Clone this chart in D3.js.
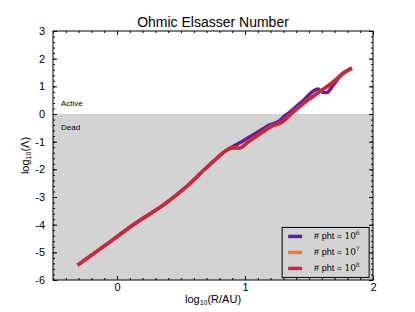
<!DOCTYPE html>
<html>
<head>
<meta charset="utf-8">
<script src="https://cdn.jsdelivr.net/npm/d3@7"></script>
<style>
  body { margin: 0; background: #fff; }
  text { font-family: "Liberation Sans", Arial, sans-serif; }
</style>
</head>
<body>
<div id="chart"></div>
<script>
// values
const logR_common = [-0.308, -0.12, 0.147, 0.382, 0.539, 0.696, 0.782, 0.837];
const logL_common = [-5.46, -4.84, -3.94, -3.22, -2.64, -1.95, -1.59, -1.37];

const logR_1e6 = [0.955, 1.088, 1.19, 1.27, 1.31, 1.35, 1.45, 1.57, 1.61, 1.64, 1.69, 1.76, 1.835];
const logL_1e6 = [-1.05, -0.69, -0.40, -0.25, -0.07, 0.07, 0.47, 0.90, 0.78, 0.78, 1.05, 1.45, 1.66];

const logR_1e7 = [0.90, 0.955, 1.033, 1.127, 1.213, 1.26, 1.29, 1.35, 1.45, 1.58, 1.69, 1.76, 1.835];
const logL_1e7 = [-1.23, -1.23, -0.98, -0.69, -0.43, -0.36, -0.29, -0.04, 0.36, 0.80, 1.16, 1.45, 1.66];

const logR_1e8 = [0.90, 0.955, 1.033, 1.127, 1.213, 1.26, 1.29, 1.35, 1.45, 1.58, 1.69, 1.76, 1.835];
const logL_1e8 = [-1.23, -1.23, -0.98, -0.69, -0.43, -0.36, -0.29, -0.04, 0.36, 0.80, 1.16, 1.45, 1.66];

const seriesNames = ["6", "7", "8"];
const seriesColors = ["#6a1a9a", "#e8803a", "#c8283c"];
const xTicks = [0, 1, 2];
const yTicks = [-6, -5, -4, -3, -2, -1, 0, 1, 2, 3];

function makeSeries(xs, ys) {
    const pts = logR_common.map((v, i) => [v, logL_common[i]]);
    return pts.concat(xs.map((v, i) => [v, ys[i]]));
}
const series = [
    makeSeries(logR_1e6, logL_1e6),
    makeSeries(logR_1e7, logL_1e7),
    makeSeries(logR_1e8, logL_1e8)
];

const margin = {top: 31, left: 53};
const width = 320, height = 249;

const svg = d3.select('#chart').append('svg')
    .attr('width', 415)
    .attr('height', 312);

const g = svg.append('g')
    .attr('transform', `translate(${margin.left}, ${margin.top})`);

const x = d3.scaleLinear().domain([-0.5, 2]).range([0, width]);
const y = d3.scaleLinear().domain([-6, 3]).range([height, 0]);

// dead zone
g.append('rect')
    .attr('x', 0)
    .attr('y', y(0))
    .attr('width', width)
    .attr('height', y(-6) - y(0))
    .attr('fill', '#d3d3d3');

g.append('text').attr('x', 8).attr('y', y(0) - 8)
    .style('font-size', '8px').text('Active');
g.append('text').attr('x', 8).attr('y', y(0) + 16)
    .style('font-size', '8px').text('Dead');

// lines
const line = d3.line()
    .x(d => x(d[0]))
    .y(d => y(d[1]))
    .curve(d3.curveMonotoneX);

series.forEach((s, i) => {
    g.append('path')
        .datum(s)
        .attr('d', line)
        .attr('fill', 'none')
        .attr('stroke', seriesColors[i])
        .attr('stroke-width', 3.5)
        .attr('stroke-linejoin', 'round');
});

// axes, ticks inside on all sides
const xMinor = d3.range(-5, 21).map(d => d / 10);
const yMinor = d3.range(-30, 16).map(d => d / 5);
const plain = d => String(d);

function styleAxis(sel) {
    sel.select('.domain').remove();
    sel.selectAll('.tick line').attr('stroke', '#000');
    sel.selectAll('.tick text').style('font-size', '11px')
        .style('font-family', '"Liberation Sans", Arial, sans-serif').attr('fill', '#000');
}

g.append('g').attr('transform', `translate(0, ${height})`)
    .call(d3.axisBottom(x).tickValues(xMinor).tickSize(-2).tickFormat(''))
    .call(styleAxis);
g.append('g').attr('transform', `translate(0, ${height})`)
    .call(d3.axisBottom(x).tickValues(xTicks).tickSize(-4).tickPadding(3).tickFormat(plain))
    .call(styleAxis);
g.append('g')
    .call(d3.axisTop(x).tickValues(xMinor).tickSize(-2).tickFormat(''))
    .call(styleAxis);
g.append('g')
    .call(d3.axisTop(x).tickValues(xTicks).tickSize(-4).tickFormat(''))
    .call(styleAxis);

g.append('g')
    .call(d3.axisLeft(y).tickValues(yMinor).tickSize(-2).tickFormat(''))
    .call(styleAxis);
g.append('g')
    .call(d3.axisLeft(y).tickValues(yTicks).tickSize(-4).tickPadding(8).tickFormat(plain))
    .call(styleAxis);
g.append('g').attr('transform', `translate(${width}, 0)`)
    .call(d3.axisRight(y).tickValues(yMinor).tickSize(-2).tickFormat(''))
    .call(styleAxis);
g.append('g').attr('transform', `translate(${width}, 0)`)
    .call(d3.axisRight(y).tickValues(yTicks).tickSize(-4).tickFormat(''))
    .call(styleAxis);

g.append('rect')
    .attr('width', width).attr('height', height)
    .attr('fill', 'none').attr('stroke', '#000').attr('stroke-width', 1);

// legend
const leg = g.append('g').attr('transform', `translate(${x(1.29)}, ${y(-4.1)})`);
leg.append('rect')
    .attr('width', 87).attr('height', 50)
    .attr('fill', '#d3d3d3').attr('stroke', '#000').attr('stroke-width', 1);
seriesNames.forEach((n, i) => {
    const yy = 9 + i * 16;
    leg.append('line')
        .attr('x1', 6).attr('x2', 20).attr('y1', yy).attr('y2', yy)
        .attr('stroke', seriesColors[i]).attr('stroke-width', 3.5);
    const t = leg.append('text').attr('x', 32).attr('y', yy + 3).style('font-size', '9px');
    t.append('tspan').text('# pht = ');
    t.append('tspan').style('font-family', '"DejaVu Serif", serif').text('10');
    t.append('tspan').style('font-family', '"DejaVu Serif", serif').style('font-size', '6px').attr('dy', -4).text(n);
});

// labels
svg.append('text')
    .attr('x', margin.left + width / 2).attr('y', 27)
    .attr('text-anchor', 'middle')
    .style('font-size', '14px')
    .text('Ohmic Elsasser Number');

const xl = svg.append('text')
    .attr('x', margin.left + width / 2).attr('y', 303)
    .attr('text-anchor', 'middle')
    .style('font-size', '11px');
xl.append('tspan').text('log');
xl.append('tspan').attr('dy', 2).style('font-size', '7px').text('10');
xl.append('tspan').attr('dy', -2).text('(R/AU)');

const yl = svg.append('text')
    .attr('transform', `translate(29, ${margin.top + height / 2}) rotate(-90)`)
    .attr('text-anchor', 'middle')
    .style('font-size', '11px');
yl.append('tspan').text('log');
yl.append('tspan').attr('dy', 2).style('font-size', '7px').text('10');
yl.append('tspan').attr('dy', -2).text('(Λ)');
</script>
</body>
</html>
